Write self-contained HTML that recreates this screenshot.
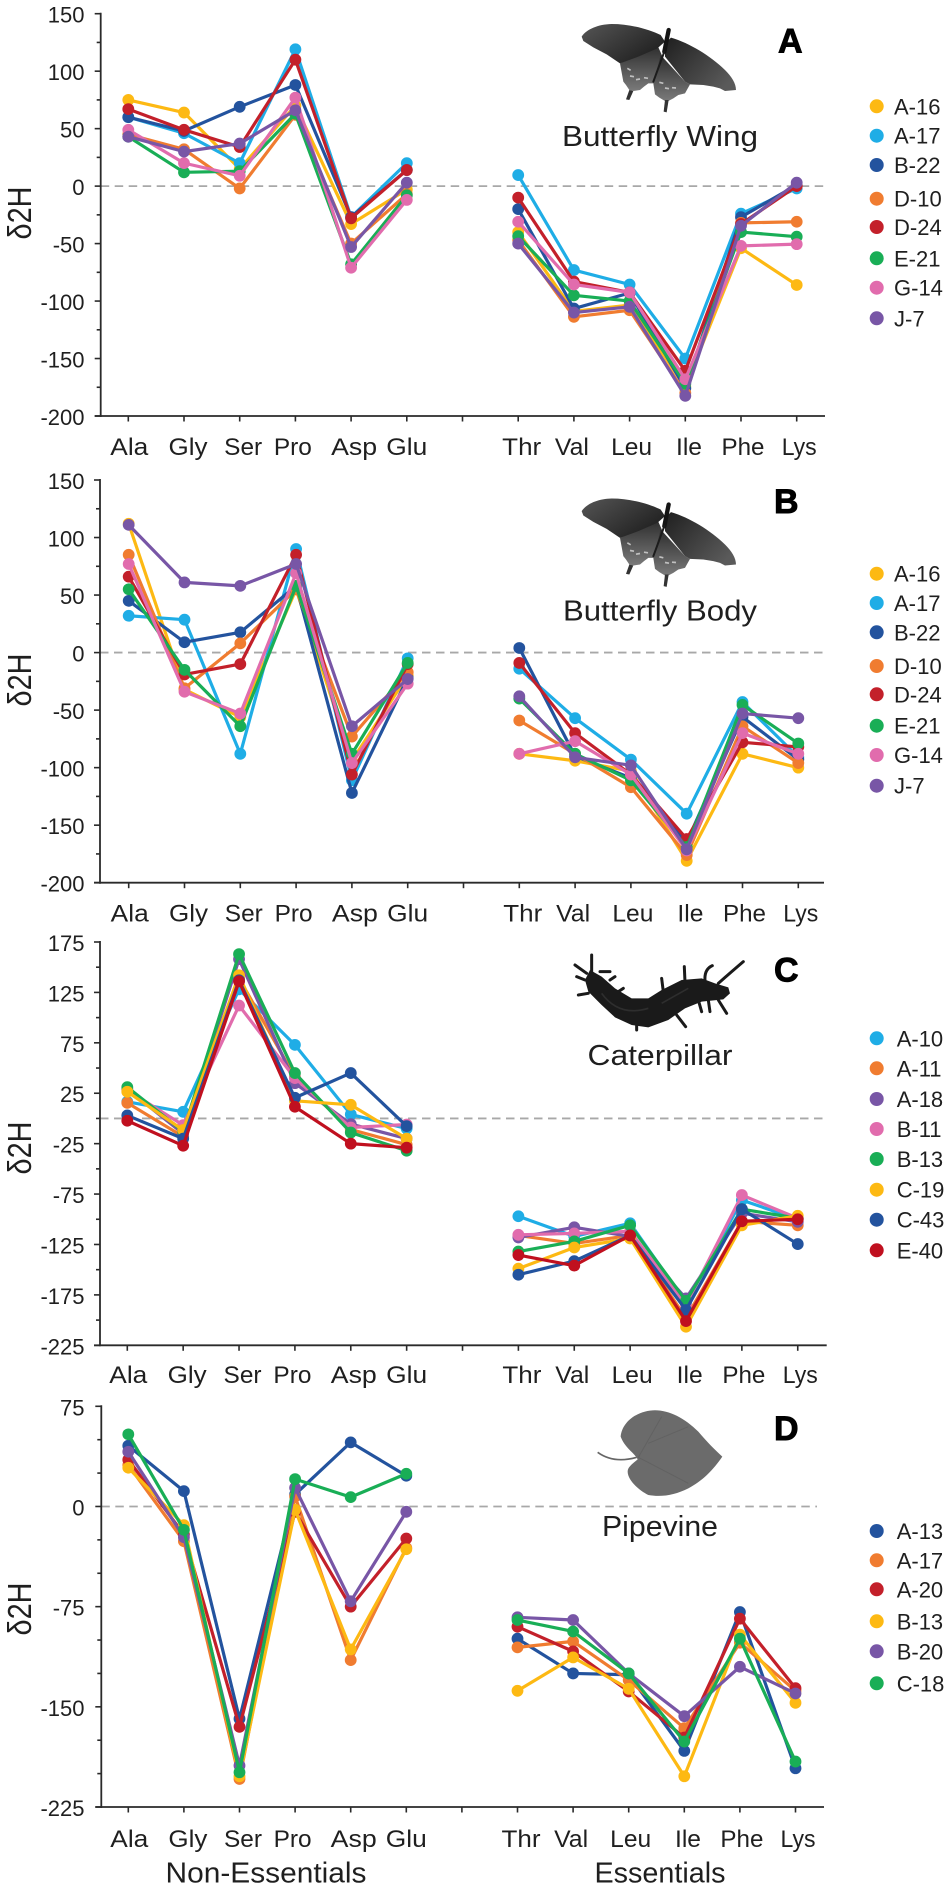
<!DOCTYPE html>
<html lang="en">
<head>
<meta charset="utf-8">
<title>Amino acid δ2H profiles</title>
<style>
html,body{margin:0;padding:0;background:#fff;}
svg{display:block;}
text{font-family:"Liberation Sans",sans-serif;fill:#1f1f1f;}
text.panel-letter{fill:#000;stroke:#000;stroke-width:0.9px;font-weight:bold;font-size:34px;}
</style>
</head>
<body>
<svg id="figure" xmlns="http://www.w3.org/2000/svg" width="950" height="1890" viewBox="0 0 950 1890">
  <defs>
    <linearGradient id="wing-left" x1="0" y1="0" x2="1" y2="0.7">
      <stop offset="0" stop-color="#555555"/><stop offset="1" stop-color="#1f1f1f"/>
    </linearGradient>
    <linearGradient id="wing-right" x1="0" y1="0" x2="1" y2="0.7">
      <stop offset="0" stop-color="#1f1f1f"/><stop offset="1" stop-color="#5a5a5a"/>
    </linearGradient>
    <linearGradient id="wing-hind" x1="0" y1="0" x2="0" y2="1">
      <stop offset="0" stop-color="#2c2c2c"/><stop offset="1" stop-color="#7a7a7a"/>
    </linearGradient>
    <g id="butterfly-shape">
      <path d="M150,145 L262,90 L280,130 L250,205 L235,205 L222,215 L210,225 L190,228 L178,225 L168,210 L160,200Z" fill="url(#wing-hind)"/>
      <path d="M178,225 L190,228 L178,255 L168,253Z" fill="#333"/>
      <path d="M272,120 L345,200 L360,208 L345,235 L325,240 L310,250 L295,258 L285,258 L268,248 L255,238 L250,205Z" fill="url(#wing-hind)"/>
      <path d="M285,255 L296,255 L290,292 L281,290Z" fill="#333"/>
      <path d="M35,65 C50,42 85,28 125,27 C180,27 235,42 272,60 L285,80 L262,100 L205,125 L150,145 L110,118 L70,97 L40,78Z" fill="url(#wing-left)"/>
      <path d="M303,68 C360,85 420,122 465,165 C485,185 498,205 498,225 L465,228 L450,220 L430,215 L400,210 L360,208 L345,200 L285,125 L285,85Z" fill="url(#wing-right)"/>
      <path d="M296,45 L283,110" stroke="#141414" stroke-width="13" stroke-linecap="round" fill="none"/>
      <path d="M283,110 L250,200" stroke="#1c1c1c" stroke-width="6" stroke-linecap="round" fill="none"/>
      <path d="M172,160 l10,6 M180,183 l12,2 M198,194 l12,-2 M222,188 l12,2 M268,202 l12,3 M285,219 l12,2 M306,218 l12,1" stroke="#c0c0c0" stroke-width="5" fill="none"/>
    </g>
  </defs>

  <use href="#butterfly-shape" transform="translate(570,15) scale(0.3333)"/>
  <use href="#butterfly-shape" transform="translate(570,489.5) scale(0.3333)"/>

  <g transform="translate(475,930) scale(0.3333)">
    <path d="M345,120 L380,140 L420,175 L470,205 L520,205 L560,180 L620,150 L680,145 L720,160 L760,172 L765,190 L745,208 L680,215 L630,235 L580,270 L520,292 L470,285 L420,262 L380,225 L340,185 L330,150Z" fill="#1a1a1a"/>
    <path d="M350,130 L350,75 M335,130 L300,105 M330,150 L305,140 M375,125 L405,125 M405,150 L420,140 M430,185 L445,175 M340,190 L310,195 M565,185 L560,145 M630,155 L628,110 M690,150 Q688,118 712,107 M730,160 Q770,125 805,95 M670,210 L680,245 M700,210 L705,245 M730,210 L755,250 M605,255 L632,290 M485,285 L485,300" fill="none" stroke="#1a1a1a" stroke-width="9" stroke-linecap="round"/>
    <path d="M380,190 C420,245 470,250 520,235 M560,220 L640,175" fill="none" stroke="#2e2e2e" stroke-width="5"/>
  </g>

  <g transform="translate(475,1400) scale(0.3333)">
    <path d="M368,157 C400,180 440,185 485,172" stroke="#666" stroke-width="5" fill="none"/>
    <path d="M437,110 C440,75 470,45 510,35 C560,20 620,45 670,95 C695,125 720,150 742,170 C715,210 680,245 640,265 C600,285 560,292 520,285 C490,270 458,240 458,215 C458,200 475,190 488,178 C480,160 450,145 437,110Z" fill="#6b6b6b"/>
    <path d="M490,172 L640,250 M490,172 L560,50 M520,130 L640,80" stroke="#626262" stroke-width="3" fill="none"/>
  </g>

  <text x="660" y="146" font-size="29" text-anchor="middle" textLength="196" lengthAdjust="spacingAndGlyphs">Butterfly Wing</text>
  <text x="660" y="620.7" font-size="29" text-anchor="middle" textLength="194" lengthAdjust="spacingAndGlyphs">Butterfly Body</text>
  <text x="660" y="1065" font-size="29" text-anchor="middle" textLength="145" lengthAdjust="spacingAndGlyphs">Caterpillar</text>
  <text x="660" y="1536" font-size="29" text-anchor="middle" textLength="116" lengthAdjust="spacingAndGlyphs">Pipevine</text>

  <text class="panel-letter" x="778" y="52.3">A</text>
  <text class="panel-letter" x="774" y="513">B</text>
  <text class="panel-letter" x="774" y="981.7">C</text>
  <text class="panel-letter" x="774" y="1440">D</text>

  <text transform="translate(31,213) rotate(-90)" font-size="33" text-anchor="middle" textLength="53" lengthAdjust="spacingAndGlyphs">δ2H</text>
  <text transform="translate(31,680) rotate(-90)" font-size="33" text-anchor="middle" textLength="53" lengthAdjust="spacingAndGlyphs">δ2H</text>
  <text transform="translate(31,1148) rotate(-90)" font-size="33" text-anchor="middle" textLength="53" lengthAdjust="spacingAndGlyphs">δ2H</text>
  <text transform="translate(31,1609) rotate(-90)" font-size="33" text-anchor="middle" textLength="53" lengthAdjust="spacingAndGlyphs">δ2H</text>

  <text x="266" y="1882.5" font-size="29" text-anchor="middle" textLength="201" lengthAdjust="spacingAndGlyphs">Non-Essentials</text>
  <text x="660" y="1882.5" font-size="29" text-anchor="middle" textLength="131" lengthAdjust="spacingAndGlyphs">Essentials</text>

  <g id="charts"></g>
</svg>

<script>
// Shared categories ('' is the empty slot between the two amino-acid groups)
const categories = ['Ala','Gly','Ser','Pro','Asp','Glu','','Thr','Val','Leu','Ile','Phe','Lys'];

// Panel A - Butterfly Wing
const ticksA = [150,100,50,0,-50,-100,-150,-200];
const a_A16 = [75,64,15,70,-33,-3,-40,-109,-103.5,-174.6,-54,-86];
const a_A17 = [60,46,20,119,-27,20,9.6,-73,-85.6,-150,-24,-2];
const a_B22 = [60,48,69,88,-27,14,-20,-106.5,-93,-176,-27,1];
const a_D10 = [45,32,-2,62,-50,-7,-47,-113.7,-108,-180,-32,-31];
const a_D24 = [67,49,34,110,-28,14,-10,-83,-92.5,-160.7,-33,0];
const a_E21 = [43,12,13,63,-68,-8,-43.5,-95,-100,-172,-40,-44];
const a_G14 = [49,20,9,77,-71,-12,-31,-85.6,-92.5,-168,-52,-50.5];
const a_J7  = [43,30,37,66,-53,3,-50,-110,-105,-182.5,-34.5,3];

// Panel B - Butterfly Body
const ticksB = [150,100,50,0,-50,-100,-150,-200];
const b_A16 = [112,-32,-56,55,-94,-20,-88,-94,-103,-181,-88,-100];
const b_A17 = [32,28.6,-88,90,-111,-5,-14,-57,-93,-140,-43,-91];
const b_B22 = [45,9,17.6,58,-122,-22,4,-90,-109,-165,-56,-93];
const b_D10 = [85,-31,8,55,-73,-17,-59,-88,-117,-176,-64,-96];
const b_D24 = [66,-19,-10,85,-106,-10,-9,-70,-106,-162,-78,-82];
const b_E21 = [55,-15,-64,58,-88,-9,-40,-88,-111,-169,-45.5,-79];
const b_G14 = [77,-34,-53,69,-96,-27,-88,-77,-106,-172,-70,-88];
const b_J7  = [111,61,58,77,-64,-23,-38,-91,-98,-171,-53,-57];

// Panel C - Caterpillar
const ticksC = [175,125,75,25,-25,-75,-125,-175,-225];
const c_A10 = [16.5,6.6,128,73,4,-10,-97,-117,-104,-183,-81,-100];
const c_A11 = [15.5,-18,139,41,-11,-26,-116,-124,-116,-198,-102,-106];
const c_A18 = [29,-15,158,35,-5.6,-20,-118,-108,-117,-178.5,-94,-102.5];
const c_B11 = [28,-6.6,112,40,-9,-6,-115.4,-114,-112,-185,-76,-99];
const c_B13 = [31,-13,163,45,-14,-32,-132,-122,-106,-181,-90,-99];
const c_C19 = [26.5,-11.5,142,17.5,13.5,-20,-149,-128,-119,-206.6,-106,-96.5];
const c_C43 = [3,-20,137,20.5,45,-7.6,-155,-141.5,-116,-190,-90,-124.6];
const c_E40 = [-2.3,-27,136,11.6,-25,-29,-135.5,-146,-116,-201,-102,-100];

// Panel D - Pipevine
const ticksD = [75,0,-75,-150,-225];
const d_A13 = [45.5,11.5,-159,9,48,23,-99,-125,-126,-183,-79,-196];
const d_A17 = [31,-26,-204,7.5,-115,-31,-105.5,-101,-130,-166,-102,-138];
const d_A20 = [35,-21,-165,-4,-75,-24,-90,-108.5,-138.5,-173,-84,-136];
const d_B13 = [29,-14,-202,-2.5,-107,-32,-138,-113,-136.5,-202,-96,-147];
const d_B20 = [41,-23,-194,14,-71,-4,-83,-85,-125,-157,-120,-140];
const d_C18 = [54,-17.5,-199,20.5,7,24.5,-85,-93.6,-125,-176,-99,-191];

// Sample colours and series groupings
const yellow='#fdb913', cyan='#1fade6', navy='#23539e', orange='#f07c30',
      red='#c3202a', green='#19ae56', pink='#e16cad', purple='#7856a6';
const seriesA = [['A-16',yellow,a_A16],['A-17',cyan,a_A17],['B-22',navy,a_B22],['D-10',orange,a_D10],['D-24',red,a_D24],['E-21',green,a_E21],['G-14',pink,a_G14],['J-7',purple,a_J7]];
const seriesB = [['A-16',yellow,b_A16],['A-17',cyan,b_A17],['B-22',navy,b_B22],['D-10',orange,b_D10],['D-24',red,b_D24],['E-21',green,b_E21],['G-14',pink,b_G14],['J-7',purple,b_J7]];
const seriesC = [['A-10',cyan,c_A10],['A-11',orange,c_A11],['A-18',purple,c_A18],['B-11',pink,c_B11],['B-13',green,c_B13],['C-19',yellow,c_C19],['C-43',navy,c_C43],['E-40','#c0101f',c_E40]];
const seriesD = [['A-13',navy,d_A13],['A-17',orange,d_A17],['A-20',red,d_A20],['B-13',yellow,d_B13],['B-20',purple,d_B20],['C-18',green,d_C18]];

// Layout only: pixel frame of each panel
const panels = [
  {id:'a',series:seriesA,ticks:ticksA,axisX:100.7,top:13.7,bottom:416,x0:128.3,step:55.7,right:825,zeroRight:825,labelY:455,legendX:894,legendRows:[106.3,135.7,165,198.7,227,258.3,287.7,318.3]},
  {id:'b',series:seriesB,ticks:ticksB,axisX:100,top:480,bottom:882.7,x0:128.7,step:55.8,right:824,zeroRight:824,labelY:921.7,legendX:894,legendRows:[573.7,603,632.3,666,694.3,725.7,755,785.7]},
  {id:'c',series:seriesC,ticks:ticksC,axisX:100,top:942,bottom:1345.3,x0:127.3,step:55.87,right:826.7,zeroRight:826,labelY:1383,legendX:896.7,legendRows:[1038.3,1068.3,1099,1129,1159,1189.7,1219.7,1250.3]},
  {id:'d',series:seriesD,ticks:ticksD,axisX:101.3,top:1406.3,bottom:1807,x0:128.3,step:55.6,right:824,zeroRight:817,labelY:1847,legendX:896.7,legendRows:[1531,1560.3,1589.3,1621.3,1651.3,1683.3]}
];
// Layout only: horizontal nudge and drawn width for each tick label
const labelFit = {Ala:[1,38],Gly:[4,39],Ser:[3.5,38],Pro:[-2.5,38],Asp:[3,46],Glu:[0,41],Thr:[3.5,39],Val:[-2,34],Leu:[2,41],Ile:[3.7,26],Phe:[2,43],Lys:[2.5,35]};

const NS = 'http://www.w3.org/2000/svg';
const root = document.getElementById('charts');
function make(tag, parent, attrs, content){
  const node = document.createElementNS(NS, tag);
  for (const k in attrs) node.setAttribute(k, attrs[k]);
  if (content !== undefined) node.textContent = content;
  parent.appendChild(node);
  return node;
}

panels.forEach(function(p){
  const yMax = p.ticks[0];
  const yMin = p.ticks[p.ticks.length-1];
  const yScale = function(v){ return p.top + (yMax - v) * (p.bottom - p.top) / (yMax - yMin); };
  const xScale = function(i){ return p.x0 + p.step * i; };

  const g = make('g', root, {});
  
  

  // Zero reference line
  const zero = make('line', g, {x1:p.axisX, x2:p.zeroRight, y1:yScale(0), y2:yScale(0), stroke:'#a8a8a8', 'stroke-width':1.8, 'stroke-dasharray':'8.5 5.5'});
  
  

  // Y axis and ticks
  const yAxis = make('line', g, {x1:p.axisX, x2:p.axisX, y1:p.top-1, y2:p.bottom+1, stroke:'#2a2a2a', 'stroke-width':1.8});
  
  
  for (let v = yMax; v >= yMin; v -= 25) {
    const major = p.ticks.indexOf(v) >= 0;
    const t = make('line', g, {x1:p.axisX-(major?6:4), x2:p.axisX, y1:yScale(v), y2:yScale(v), stroke:'#2a2a2a', 'stroke-width':1.6});
    
    
  }
  p.ticks.forEach(function(v){
    const lab = make('text', g, {x:84.5, y:yScale(v)+9, 'font-size':22, 'text-anchor':'end'}, String(v));
    
    
  });

  // X axis, ticks, labels
  const xAxis = make('line', g, {x1:p.axisX-6, x2:p.right, y1:p.bottom, y2:p.bottom, stroke:'#2a2a2a', 'stroke-width':1.8});
  
  
  categories.forEach(function(c, i){
    const t = make('line', g, {x1:xScale(i), x2:xScale(i), y1:p.bottom, y2:p.bottom+5.5, stroke:'#2a2a2a', 'stroke-width':1.6});
    
    
    if (c) {
      const fit = labelFit[c];
      const lab = make('text', g, {x:xScale(i)+fit[0], y:p.labelY, 'font-size':24, 'text-anchor':'middle', textLength:fit[1], lengthAdjust:'spacingAndGlyphs'}, c);
      
      
    }
  });

  // Series: each is drawn in two runs split at the empty category
  const slots = categories.map(function(c, i){ return c ? i : -1; }).filter(function(i){ return i >= 0; });
  p.series.forEach(function(s){
    const sg = make('g', g, {});
    
    
    let run = [];
    const runs = [run];
    s[2].forEach(function(v, k){
      if (k > 0 && slots[k] - slots[k-1] > 1) { run = []; runs.push(run); }
      run.push(xScale(slots[k]) + ',' + yScale(v));
    });
    runs.forEach(function(r){
      const line = make('polyline', sg, {points:r.join(' '), fill:'none', stroke:s[1], 'stroke-width':3.2, 'stroke-linejoin':'round'});
      
      
    });
    s[2].forEach(function(v, k){
      const dot = make('circle', sg, {cx:xScale(slots[k]), cy:yScale(v), r:5.9, fill:s[1]});
      
      
    });
  });

  // Legend
  p.series.forEach(function(s, i){
    const entry = make('g', g, {});
    
    
    const swatch = make('circle', entry, {cx:876.7, cy:p.legendRows[i], r:7, fill:s[1]});
    
    
    const label = make('text', entry, {x:p.legendX, y:p.legendRows[i]+8, 'font-size':22}, s[0]);
    
    
  });
});
</script>
</body>
</html>
